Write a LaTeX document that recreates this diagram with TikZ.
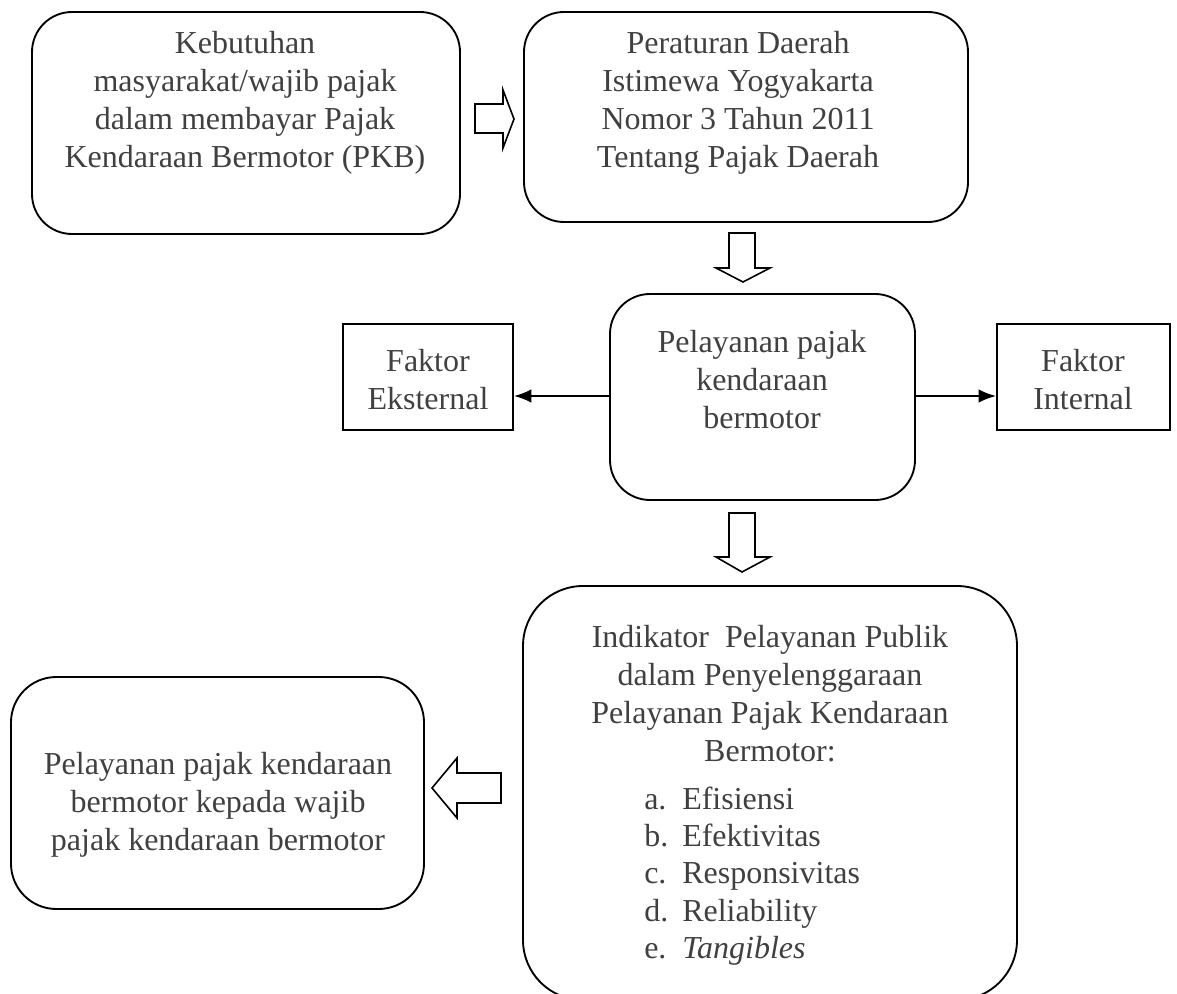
\documentclass[tikz,border=0pt]{standalone}
\usepackage{fontspec}
\setmainfont{Liberation Serif}
\usetikzlibrary{arrows.meta}
\definecolor{txt}{HTML}{404040}
\begin{document}
\begin{tikzpicture}[x=0.75pt,y=-0.75pt,
  box/.style={draw=black,line width=1.4pt,rounded corners=30pt,inner sep=0pt},
  bigbox/.style={draw=black,line width=1.4pt,rounded corners=45pt,inner sep=0pt},
  sq/.style={draw=black,line width=1.4pt,inner sep=0pt},
  lbl/.style={text=txt,font=\fontsize{24}{28.5}\selectfont,align=center,inner sep=0pt},
  blk/.style={draw=black,line width=1.2pt,fill=white,line join=miter},
  conn/.style={line width=1.4pt,-{Latex[length=13pt,width=10pt]}}]
\useasboundingbox (0,0) rectangle (1177,994);
\clip (0,0) rectangle (1177,994);

% boxes
\node[box,minimum width=321pt,minimum height=166.5pt] (b1) at (246,123) {};
\node[box,minimum width=333pt,minimum height=157.5pt] (b2) at (746,117) {};
\node[box,minimum width=228.75pt,minimum height=154.5pt] (b3) at (762.5,397) {};
\node[sq,minimum width=127.5pt,minimum height=79.5pt] (fe) at (428,377) {};
\node[sq,minimum width=129.75pt,minimum height=79.5pt] (fi) at (1083.5,377) {};
\node[bigbox,minimum width=370.5pt,minimum height=310.5pt] (b4) at (770,793) {};
\node[box,rounded corners=34pt,minimum width=309.75pt,minimum height=174pt] (b5) at (217.5,793) {};

% texts
\node[lbl] (t1) at (245,103) {Kebutuhan\\masyarakat/wajib pajak\\dalam membayar Pajak\\Kendaraan Bermotor (PKB)};
\node[lbl] (t2) at (738,103) {Peraturan Daerah\\Istimewa Yogyakarta\\Nomor 3 Tahun 2011\\Tentang Pajak Daerah};
\node[lbl] (t3) at (762,380) {Pelayanan pajak\\kendaraan\\bermotor};
\node[lbl] (tfe) at (428,380) {Faktor\\Eksternal};
\node[lbl] (tfi) at (1083,380) {Faktor\\Internal};
\node[lbl] (t4) at (770,694) {Indikator\ \ Pelayanan Publik\\dalam Penyelenggaraan\\Pelayanan Pajak Kendaraan\\Bermotor:};
\node[lbl,align=left,anchor=west,font=\fontsize{24}{28}\selectfont] (t4l) at (644,876)
  {\makebox[28.5pt][l]{a.}Efisiensi\\\makebox[28.5pt][l]{b.}Efektivitas\\\makebox[28.5pt][l]{c.}Responsivitas\\\makebox[28.5pt][l]{d.}Reliability\\\makebox[28.5pt][l]{e.}\textit{Tangibles}};
\node[lbl] (t5) at (218,805) {Pelayanan pajak kendaraan\\bermotor kepada wajib\\pajak kendaraan bermotor};

% connectors
\draw[conn] (b3.west |- 0,396) -- (fe.east |- 0,396);
\draw[conn] (b3.east |- 0,396) -- (fi.west |- 0,396);

% block arrows
\draw[blk] (475,104) -- (503,104) -- (503,90) -- (514,119) -- (503,148) -- (503,133) -- (475,133) -- cycle;
\draw[blk] (729,233) -- (755,233) -- (755,268) -- (770,268) -- (743,282) -- (716,268) -- (729,268) -- cycle;
\draw[blk] (729,513) -- (755,513) -- (755,557) -- (770,557) -- (742,572) -- (716,557) -- (729,557) -- cycle;
\draw[blk] (501,773) -- (457,773) -- (457,758) -- (432,788) -- (457,818) -- (457,803) -- (501,803) -- cycle;
\end{tikzpicture}
\end{document}
